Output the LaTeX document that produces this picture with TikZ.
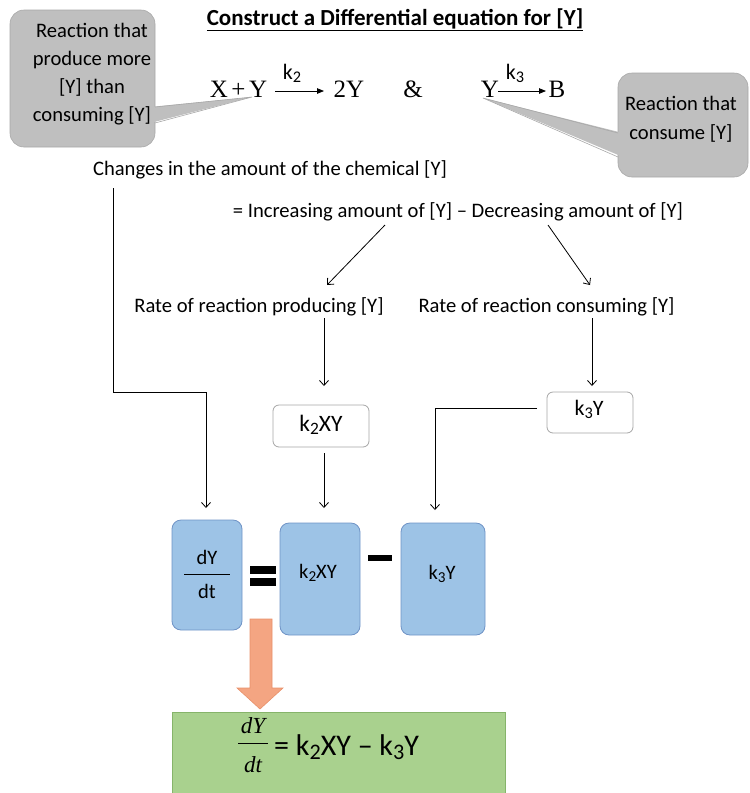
\documentclass[tikz,border=0pt]{standalone}
\usepackage{fontspec}
\setmainfont{Carlito}
\newfontfamily\eqfont{Liberation Serif}
\usetikzlibrary{arrows.meta}

\definecolor{calloutgray}{HTML}{BFBFBF}
\definecolor{calloutedge}{HTML}{A8A8A8}
\definecolor{boxblue}{HTML}{9DC3E6}
\definecolor{boxblueedge}{HTML}{6F93C6}
\definecolor{boxedge}{HTML}{A6A6A6}
\definecolor{salmon}{HTML}{F4A582}
\definecolor{salmonedge}{HTML}{E8916A}
\definecolor{resultgreen}{HTML}{A9D18E}
\definecolor{resultedge}{HTML}{86B46A}

% lowered index, a little larger than \textsubscript
\newcommand\idx[1]{\raisebox{-0.28ex}{\scalebox{0.74}{#1}}}

\tikzset{
  txt/.style={inner sep=0pt, font=\fontsize{20.6}{24}\selectfont},
  calloutbox/.style={fill=calloutgray, draw=calloutedge, line width=0.6pt, rounded corners=14pt, inner sep=0pt},
  termbox/.style={draw=boxedge, fill=white, line width=0.8pt, rounded corners=6pt, inner sep=0pt},
  bluebox/.style={fill=boxblue, draw=boxblueedge, line width=0.8pt, rounded corners=9pt, inner sep=0pt},
  flow/.style={-{Straight Barb[length=5pt,width=9pt]}, line width=0.8pt},
  rxn/.style={-{Triangle[length=7pt,width=5.5pt]}, line width=0.8pt},
  rxnfont/.style={inner sep=0pt, font=\eqfont\fontsize{25}{29}\selectfont},
  ratefont/.style={inner sep=0pt, font=\fontsize{22}{26}\selectfont},
  termfont/.style={inner sep=0pt, font=\fontsize{22}{26}\selectfont},
  bluefont/.style={inner sep=0pt, font=\fontsize{20.5}{24}\selectfont},
}

\begin{document}
\begin{tikzpicture}[x=1pt, y=-1pt]
\useasboundingbox (0,0) rectangle (750,793);

% heading
\node[inner sep=0pt, font=\bfseries\fontsize{23}{27}\selectfont] (title) at (395,20)
  {\underline{Construct a Differential equation for [Y]}};

% the two reactions
\node[rxnfont] (xy) at (238.5,89) {X\hspace{3.5pt}+\hspace{3.5pt}Y};
\node[rxnfont] (twoy) at (349,89) {2Y};
\node[rxnfont] (amp) at (413,89) {\&};
\node[rxnfont] (y) at (490,89) {Y};
\node[rxnfont] (b) at (557,89) {B};
\node[ratefont] (k2) at (292,73) {k\idx{2}};
\node[ratefont] (k3) at (515,73) {k\idx{3}};
\coordinate (r2s) at (275,91);
\coordinate (r2e) at (324,91);
\coordinate (r3s) at (498,91);
\coordinate (r3e) at (546,91);
\draw[rxn] (r2s) -- (r2e);
\draw[rxn] (r3s) -- (r3e);

% callout: producing reaction
\node[calloutbox, minimum width=145pt, minimum height=137pt] (cl) at (82.5,78.5) {};
\coordinate (clTip) at (252,97);
\fill[calloutgray] (150,107) -- (clTip) -- (150,123) -- cycle;
\draw[calloutedge, line width=0.6pt] (155,107) -- (clTip) -- (155,123);
\node[txt, align=center, font=\fontsize{20.6}{28}\selectfont] (clText) at (92,74)
  {Reaction that\\produce more\\{[Y] than}\\consuming [Y]};

% callout: consuming reaction
\node[calloutbox, minimum width=130pt, minimum height=104pt] (cr) at (683,125) {};
\coordinate (crTip) at (483,98);
\fill[calloutgray] (623,133) -- (crTip) -- (623,157) -- cycle;
\draw[calloutedge, line width=0.6pt] (618,133) -- (crTip) -- (618,157);
\node[txt, align=center, font=\fontsize{20.6}{29}\selectfont] (crText) at (681,119)
  {Reaction that\\consume [Y]};

% word equation
\node[txt] (changes) at (270,170) {Changes in the amount of the chemical [Y]};
\node[txt] (balance) at (458,212) {= Increasing amount of [Y] -- Decreasing amount of [Y]};
\node[txt] (prod) at (259,307) {Rate of reaction producing [Y]};
\node[txt] (cons) at (546.5,307) {Rate of reaction consuming [Y]};

\coordinate (incFrom) at (385,225);
\coordinate (incTo) at (327,285);
\coordinate (decFrom) at (548,225);
\coordinate (decTo) at (590,285);
\draw[flow] (incFrom) -- (incTo);
\draw[flow] (decFrom) -- (decTo);

% rate terms
\node[termbox, minimum width=96pt, minimum height=42pt] (k2xy) at (321,426) {};
\node[termfont, font=\fontsize{23.5}{27}\selectfont] (k2xyText) at (321,425) {k\idx{2}XY};
\node[termbox, minimum width=86pt, minimum height=41pt] (k3y) at (590,412.5) {};
\node[termfont] (k3yText) at (589,409) {k\idx{3}Y};

\coordinate (prodDown) at (324,318);
\coordinate (prodTip) at (324,386);
\coordinate (consDown) at (592,318);
\coordinate (consTip) at (592,386);
\draw[flow] (prodDown) -- (prodTip);
\draw[flow] (consDown) -- (consTip);

% assembled equation
\node[bluebox, minimum width=70pt, minimum height=110pt] (dydt) at (207,575) {};
\node[bluebox, minimum width=80pt, minimum height=112pt] (prodterm) at (320,579) {};
\node[bluebox, minimum width=84pt, minimum height=112pt] (consterm) at (443,579) {};
\node[bluefont] (dY) at (207,557) {dY};
\node[bluefont] (dt) at (207,591) {dt};
\draw[line width=0.8pt] (184,574) -- (230,574);
\node[bluefont] (prodtxt) at (318,573) {k\idx{2}XY};
\node[bluefont] (constxt) at (442,574) {k\idx{3}Y};
\fill (250,566) rectangle (276,574);
\fill (250,578) rectangle (276,586);
\fill (368,555) rectangle (392,561);

% connectors into the assembled equation
\coordinate (chgDown) at (113,188);
\coordinate (chgBend) at (206,392);
\coordinate (dydtTip) at (206,508);
\draw[flow] (chgDown) |- (chgBend) -- (dydtTip);
\coordinate (k2Tip) at (324,508);
\draw[flow] (k2xy.south -| k2Tip) ++(0,6) -- (k2Tip);
\coordinate (k3Start) at (537,408);
\coordinate (k3Tip) at (435,510);
\draw[flow] (k3Start) -| (k3Tip);

% resulting equation
\fill[resultgreen] (172,712) rectangle (505,793);
\draw[resultedge, line width=0.8pt] (172,793) -- (172,712) -- (505,712) -- (505,793);
\node[inner sep=0pt, font=\eqfont\itshape\fontsize{23}{26}\selectfont] (fdY) at (253,726) {dY};
\node[inner sep=0pt, font=\eqfont\itshape\fontsize{23}{26}\selectfont] (fdt) at (253,765) {dt};
\draw[line width=0.9pt] (238,743) -- (268,743);
\node[inner sep=0pt, font=\fontsize{30}{34}\selectfont, anchor=west] (result) at (274,747)
  {= k\idx{2}XY -- k\idx{3}Y};

% block arrow to the result
\filldraw[fill=salmon, draw=salmonedge, line width=0.6pt]
  (250,619) -- (272,619) -- (272,688) -- (283,688) -- (260,709) -- (237,688) -- (250,688) -- cycle;

\end{tikzpicture}
\end{document}
